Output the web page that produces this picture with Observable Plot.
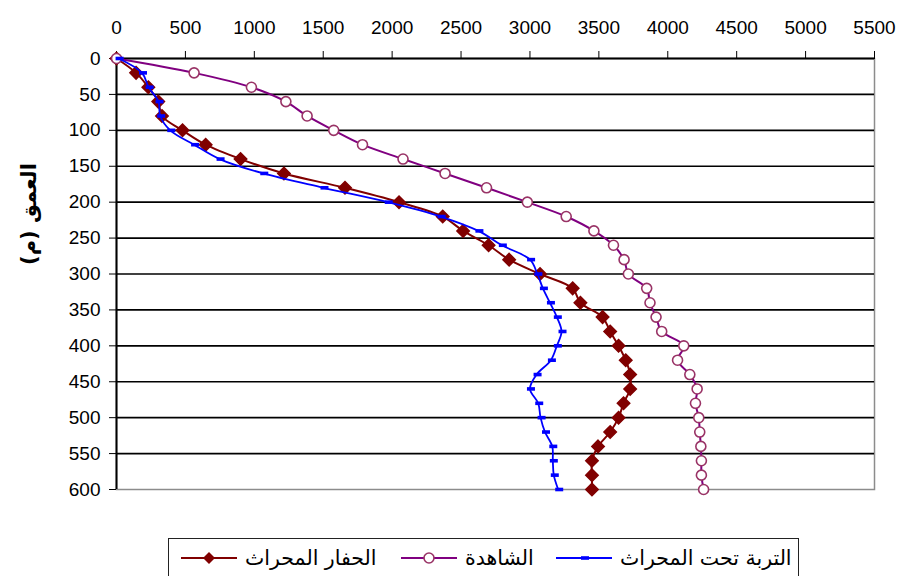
<!DOCTYPE html>
<html><head><meta charset="utf-8">
<script src="https://cdn.jsdelivr.net/npm/d3@7"></script>
<script src="https://cdn.jsdelivr.net/npm/@observablehq/plot@0.6"></script>
<style>
body{margin:0;background:#fff;font-family:"Liberation Sans",Arial,sans-serif;}
#wrap{position:relative;width:900px;height:576px;overflow:hidden;}
#legend{position:absolute;left:168px;top:538px;width:631px;height:50px;border:1.5px solid #222;box-sizing:border-box;background:#fff;}
.item{position:absolute;top:6px;display:flex;align-items:center;height:26px;}
.item span{font-family:"DejaVu Sans","Noto Sans",sans-serif;font-size:20.5px;color:#000;margin-left:8px;white-space:nowrap;}
</style></head>
<body><div id="wrap"><div id="chart"></div><div id="legend"></div></div>
<script>
// ---- data ----
const depths = [0,20,40,60,80,100,120,140,160,180,200,220,240,260,280,300,320,340,360,380,400,420,440,460,480,500,520,540,560,580,600];
const plowValues = [0,142,231,303,330,479,647,900,1215,1658,2050,2367,2515,2700,2849,3073,3310,3366,3527,3582,3643,3695,3727,3727,3679,3643,3582,3494,3450,3450,3450];
const controlValues = [0,563,979,1229,1383,1576,1785,2079,2384,2685,2981,3263,3464,3606,3683,3714,3847,3871,3915,3956,4116,4071,4160,4213,4201,4225,4232,4240,4244,4244,4260];
const underPlowValues = [15,185,233,305,317,390,563,748,1065,1502,1968,2352,2626,2796,3001,3054,3094,3145,3195,3229,3195,3152,3048,3000,3060,3077,3109,3162,3166,3173,3205];
const seriesNames = ["الحفار المحراث","الشاهدة","التربة تحت المحراث"];
const seriesColors = ["#800000","#800080","#0000ff"];
const xTicks = [0,500,1000,1500,2000,2500,3000,3500,4000,4500,5000,5500];
const yTicks = [0,50,100,150,200,250,300,350,400,450,500,550,600];
const yLabel = "العمق (م)";

const mk = (vals) => depths.map((d,i)=>({depth:d, v:vals[i]}));
const plow = mk(plowValues), control = mk(controlValues), under = mk(underPlowValues);

const dash = {draw(ctx){ ctx.rect(-3,-1.8,8,3.6); }};

const chart = Plot.plot({
  width: 900, height: 530,
  marginTop: 58, marginBottom: 41, marginLeft: 116, marginRight: 26,
  style: {fontFamily: "Liberation Sans, Arial, sans-serif", fontSize: "19px", color: "#000", background: "#fff"},
  x: {domain: [0,5500]},
  y: {domain: [0,600], reverse: true},
  marks: [
    Plot.frame({stroke: "#8c8c8c", strokeWidth: 1.5}),
    Plot.ruleY(yTicks.filter(d => d > 0 && d < 600), {stroke: "#000", strokeWidth: 1.6}),
    Plot.ruleY([yTicks[0]], {stroke: "#000", strokeWidth: 2}),
    Plot.ruleX([xTicks[0]], {stroke: "#000", strokeWidth: 2}),
    Plot.axisX({anchor: "top", ticks: xTicks, tickSize: 8, tickPadding: 17, label: null, tickFormat: d => String(d)}),
    Plot.axisY({anchor: "left", ticks: yTicks, tickSize: 7, tickPadding: 9, label: null, tickFormat: d => String(d)}),
    Plot.line(plow, {x: "v", y: "depth", stroke: seriesColors[0], strokeWidth: 2, curve: "catmull-rom"}),
    Plot.dot(plow, {x: "v", y: "depth", symbol: "diamond2", r: 5.6, fill: seriesColors[0], stroke: seriesColors[0]}),
    Plot.line(control, {x: "v", y: "depth", stroke: seriesColors[1], strokeWidth: 2, curve: "catmull-rom"}),
    Plot.dot(control, {x: "v", y: "depth", r: 5, fill: "#fff", stroke: "#993366", strokeWidth: 1.6}),
    Plot.line(under, {x: "v", y: "depth", stroke: seriesColors[2], strokeWidth: 1.8, curve: "catmull-rom"}),
    Plot.dot(under, {x: "v", y: "depth", symbol: dash, fill: seriesColors[2], stroke: "none"})
  ]
});
document.getElementById("chart").appendChild(chart);

// y-axis title
d3.select(chart).append("text")
  .attr("transform", "translate(30,214) rotate(-90)")
  .attr("text-anchor", "middle")
  .attr("dominant-baseline", "middle")
  .attr("font-family", "DejaVu Sans, sans-serif")
  .attr("font-weight", "bold")
  .attr("font-size", 21)
  .attr("fill", "#000")
  .text(yLabel);

// legend
const legend = document.getElementById("legend");
const lefts = [12, 232, 387];
const symbols = ["diamond","circle","dash"];
seriesNames.forEach((name, i) => {
  const item = document.createElement("div");
  item.className = "item";
  item.style.left = lefts[i] + "px";
  const svg = d3.create("svg").attr("width", 56).attr("height", 20);
  svg.append("line").attr("x1", 0).attr("x2", 56).attr("y1", 10).attr("y2", 10)
    .attr("stroke", seriesColors[i]).attr("stroke-width", 2);
  if (symbols[i] === "diamond") {
    svg.append("path").attr("d", "M28,4L34,10L28,16L22,10Z").attr("fill", seriesColors[i]);
  } else if (symbols[i] === "circle") {
    svg.append("circle").attr("cx", 28).attr("cy", 10).attr("r", 5).attr("fill", "#fff").attr("stroke", "#993366").attr("stroke-width", 1.6);
  } else {
    svg.append("rect").attr("x", 25).attr("y", 8.2).attr("width", 8).attr("height", 3.6).attr("fill", seriesColors[i]);
  }
  item.appendChild(svg.node());
  const span = document.createElement("span");
  span.textContent = name;
  item.appendChild(span);
  legend.appendChild(item);
});
</script></body></html>
